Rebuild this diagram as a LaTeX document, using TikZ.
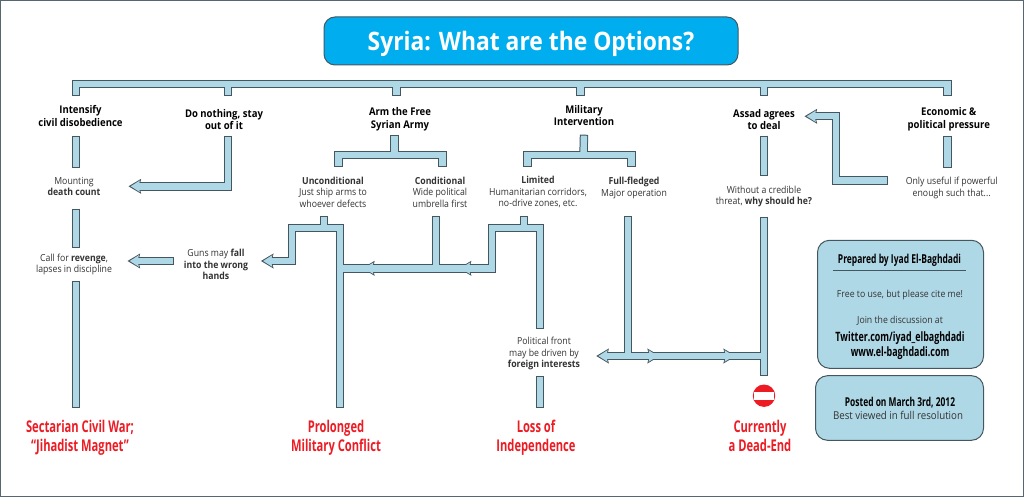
\documentclass[tikz,border=0pt]{standalone}
\usepackage{fontspec}
\setmainfont{Open Sans}[FakeStretch=0.9]
\newfontfamily\condfont{Open Sans}[FakeStretch=0.69]
\usetikzlibrary{arrows.meta,positioning}
\definecolor{pipeblue}{HTML}{AFD8E6}
\definecolor{pipeline}{HTML}{44565F}
\definecolor{titleblue}{HTML}{00AEEF}
\definecolor{signred}{HTML}{ED1C24}
\definecolor{bodygray}{HTML}{333333}
\tikzset{
  edgehead/.tip={Stealth[length=12.4pt,width=14.4pt,inset=1.5pt]},
  fillhead/.tip={Stealth[length=9pt,width=11.2pt,inset=1.1pt]}
}

\begin{document}
\begin{tikzpicture}[
  x=1pt, y=-1pt,
  font=\fontsize{9.7}{11.5}\selectfont,
  note/.style={inner sep=0pt, align=center, text=bodygray, minimum height=40pt},
  option/.style={note, text=black, minimum height=32pt, font=\bfseries\fontsize{10.6}{12.7}\selectfont},
  verdict/.style={note, text=signred, minimum height=60pt, font=\condfont\bfseries\fontsize{16.2}{19.3}\selectfont},
  panel/.style={draw=pipeline, line width=1pt, fill=pipeblue, rounded corners=12pt, inner sep=0pt},
  paneltext/.style={inner sep=0pt, align=center, text=bodygray},
  panelhead/.style={paneltext, text=black, font=\condfont\bfseries\fontsize{12.9}{15.7}\selectfont},
  pipeedge/.style={draw=pipeline, line width=8.4pt, line join=miter, headed/.style={-{edgehead}}},
  pipefill/.style={draw=pipeblue, line width=6.4pt, line join=miter, shorten <=1pt, shorten >=1pt,
    headed/.style={-{fillhead}, shorten >=2.2pt}}
]
\useasboundingbox (0,0) rectangle (1024,497);
\draw[pipeline!90, line width=1.5pt] (0.5,0.5) rectangle (1023.3,496.3);

\node[panel, fill=titleblue, rounded corners=11pt, minimum width=414pt, minimum height=48pt,
  text=white, text height=20pt, text depth=0pt, font=\bfseries\fontsize{25.4}{30}\selectfont] (title) at (531,41) {Syria: What are the Options?};

\node[option, minimum height=40pt] (civil) at (80.5,116) {Intensify\\civil disobedience};
\node[option] (nothing) at (224,119.5) {Do nothing, stay\\out of it};
\node[option, minimum height=30pt] (arm) at (400,119.5) {Arm the Free\\Syrian Army};
\node[option, minimum height=38pt] (military) at (584,115.5) {Military\\Intervention};
\node[option, minimum width=80.6pt] (assad) at (764,119.5) {Assad agrees\\to deal};
\node[option] (economic) at (948.8,119.5) {Economic \&\\political pressure};

\node[note, minimum height=36pt, minimum width=108.6pt] (mounting) at (74,186.3) {Mounting\\\textbf{death count}};
\node[note, minimum height=32.6pt, minimum width=106.6pt] (revenge) at (74,264.3) {Call for \textbf{revenge},\\lapses in discipline};
\node[note, minimum width=89.4pt] (guns) at (216,264.7) {Guns may \textbf{fall}\\\textbf{into the wrong}\\\textbf{hands}};
\node[note] (uncond) at (333,192) {\textbf{Unconditional}\\Just ship arms to\\whoever defects};
\node[note] (cond) at (440,192) {\textbf{Conditional}\\Wide political\\umbrella first};
\node[note] (limited) at (538,192) {\textbf{Limited}\\Humanitarian corridors,\\no-drive zones, etc.};
\node[note, minimum height=42pt] (fullfledged) at (634,187.8) {\textbf{Full-fledged}\\Major operation};
\node[note] (threat) at (764,196.3) {Without a credible\\threat, \textbf{why should he?}};
\node[note, minimum height=39pt, minimum width=128pt] (useful) at (951.7,187.8) {Only useful if powerful\\enough such that...};
\node[note, minimum width=104pt] (political) at (544,353.8) {Political front\\may be driven by\\\textbf{foreign interests}};

\node[verdict] (sectarian) at (80,438) {Sectarian Civil War;\\“Jihadist Magnet”};
\node[verdict] (prolonged) at (336,438) {Prolonged\\Military Conflict};
\node[verdict] (loss) at (536,438) {Loss of\\Independence};
\node[verdict] (deadend) at (760,436) {Currently\\a Dead-End};
\node[circle, fill=signred, minimum size=22.4pt, inner sep=0pt, path picture={
  \fill[white] (-10,-3.8) rectangle (10,3.8);}] (nogo) at (764,395.7) {};

\node[panel, minimum width=166pt, minimum height=128pt] (prepared) at (900.5,304.3) {};
\node[panel, minimum width=168pt, minimum height=64.6pt] (posted) at (899.5,408) {};
\node[panelhead, font=\condfont\bfseries\fontsize{12.3}{15.7}\selectfont, minimum width=133pt, minimum height=21.4pt,
  text height=8pt, text depth=0pt] (author) at (899.5,259.3) {Prepared by Iyad El-Baghdadi};
\node[paneltext] (cite) at (900,295.3) {Free to use, but please cite me!};
\node[paneltext] (join) at (900,321) {Join the discussion at};
\node[panelhead] (links) at (900,345.7) {Twitter.com/iyad\_elbaghdadi\\www.el-baghdadi.com};
\node[panelhead, font=\condfont\bfseries\fontsize{12.2}{15.7}\selectfont] (date) at (900,402.4) {Posted on March 3rd, 2012};
\node[paneltext, font=\fontsize{10.8}{13}\selectfont] (resolution) at (898,415) {Best viewed in full resolution};
\draw[pipeline, line width=1pt] (author.south west) -- (author.south east);

\coordinate (bus) at (528,84);
\coordinate (armbar) at (394.3,155);
\coordinate (milbar) at (583.5,155);
\coordinate (loopa) at (292,228);
\coordinate (loopb) at (492,228);
\coordinate (flowa) at (458.7,268.3);
\coordinate (flowb) at (362,268.3);
\coordinate (joinleft) at (340,268.3);
\coordinate (turnfull) at (628,356);
\coordinate (flowc) at (660,356);
\coordinate (flowd) at (736,356);
\coordinate (joinright) at (764,356);
\coordinate (bend) at (836,116.3);

\foreach \layer in {pipeedge,pipefill} {
  \draw[\layer] ([xshift=-4.5pt]civil.north) |- (bus) -| ([shift={(-1.3,-7.5)}]economic.north);
  \draw[\layer] ([shift={(4,-7.5)}]nothing.north) -- ++(0,-12);
  \draw[\layer] ([shift={(-3.5,-8.5)}]arm.north) -- ++(0,-12);
  \draw[\layer] ([xshift=-3.5pt]military.north) -- ++(0,-12);
  \draw[\layer] ([yshift=7.5pt]assad.north) -- ++(0,-12);

  \draw[\layer] ([xshift=-4.5pt]civil.south) -- ([xshift=2pt]mounting.north);
  \draw[\layer] ([shift={(2,4)}]mounting.south) -- ([xshift=2pt]revenge.north);
  \draw[\layer] ([xshift=2pt]revenge.south) -- ([xshift=-4pt]sectarian.north);
  \draw[\layer, headed] ([xshift=4pt]nothing.south) |- (mounting.east);
  \draw[\layer, headed] ([shift={(2.7,-3.7)}]guns.west) -- ([yshift=3.3pt]revenge.east);

  \draw[\layer] ([xshift=-5.7pt]arm.south) -- (armbar);
  \draw[\layer] ([shift={(5.5,-5)}]uncond.north) |- (armbar) -| ([shift={(2.5,-5)}]cond.north);
  \draw[\layer] ([shift={(-9,4)}]uncond.south) -- ++(0,12);
  \draw[\layer, headed] ([xshift=4pt]prolonged.north) |- (loopa) |- ([yshift=3.7pt]guns.east);
  \draw[\layer] ([shift={(-4,4)}]cond.south) -- ++(0,52.3);

  \draw[\layer] (military.south) -- (milbar);
  \draw[\layer] ([shift={(-10.5,-5)}]limited.north) |- (milbar) -| ([xshift=-2.5pt]fullfledged.north);
  \draw[\layer] ([shift={(-14,4)}]limited.south) -- ++(0,12);
  \draw[\layer, headed] ([shift={(-4,-4.5)}]political.north) |- (loopb) |- (flowa);
  \draw[\layer, headed] ([xshift=12pt]flowa) -- (flowb);
  \draw[\layer] ([xshift=12pt]flowb) -- (joinleft);
  \draw[\layer] ([shift={(-4,2.2)}]political.south) -- ([xshift=4pt]loss.north);

  \draw[\layer, headed] ([shift={(-6,7.2)}]fullfledged.south) |- ([yshift=-2.2pt]political.east);
  \draw[\layer, headed] (turnfull) -- (flowc);
  \draw[\layer, headed] ([xshift=-12pt]flowc) -- (flowd);
  \draw[\layer] ([xshift=-12pt]flowd) -- (joinright);

  \draw[\layer] (assad.south) -- (threat.north);
  \draw[\layer] (threat.south) -- ([yshift=8.2pt]nogo.north);

  \draw[\layer] ([xshift=-1.3pt]economic.south) -- ([xshift=-4.2pt]useful.north);
  \draw[\layer, headed] ([yshift=7.5pt]useful.west) -| (bend) -- ([yshift=3.2pt]assad.east);
}
\end{tikzpicture}
\end{document}
